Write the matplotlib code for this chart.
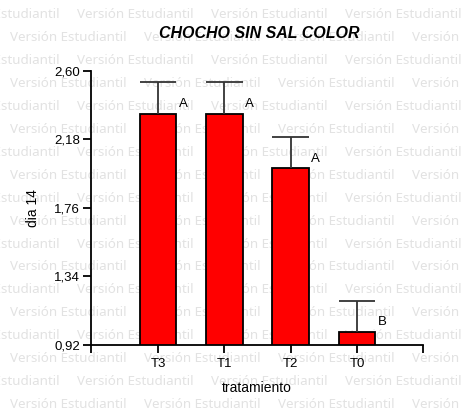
import matplotlib.pyplot as plt
from matplotlib.ticker import FuncFormatter

# data
tratamientos = ["T3", "T1", "T2", "T0"]
medias = [2.334, 2.334, 2.001, 0.998]
error_sup = [0.196, 0.196, 0.190, 0.191]
letras = ["A", "A", "A", "B"]
yticks = [0.92, 1.34, 1.76, 2.18, 2.60]

plt.rcParams['font.family'] = ['Liberation Sans', 'DejaVu Sans']

W, H = 462, 415
fig = plt.figure(figsize=(W / 100, H / 100), dpi=100)

# watermark "Versión Estudiantil" behind everything, sized to ~117 px wide
marca = "Versión Estudiantil"
renderer = fig.canvas.get_renderer()
t = fig.text(0, 0, marca, fontsize=10, family="Noto Sans")
ancho = t.get_window_extent(renderer).width
t.remove()
fs_marca = 10 * 117 / ancho

row_step = 22.9
period = 134
for i in range(18):
    y = 15 + i * row_step
    x = -57 if i % 2 == 0 else 10
    while x < W:
        fig.text(x / W, 1 - y / H, marca, color="#e2e2e2",
                 fontsize=fs_marca, family="Noto Sans", ha="left", va="center",
                 zorder=-5)
        x += period

ax = fig.add_axes([91 / W, 1 - 345 / H, (423 - 91) / W, (345 - 70.6) / H])
ax.patch.set_alpha(0)

pos = list(range(len(tratamientos)))
ancho_barra = 0.55
ax.bar(pos, medias, width=ancho_barra, color="#ff0000", edgecolor="black",
       linewidth=1.3, zorder=2)
tops = [m + e for m, e in zip(medias, error_sup)]
ax.vlines(pos, medias, tops, color="#333333", linewidth=1.3, zorder=3)
ax.hlines(tops, [p - ancho_barra / 2 for p in pos], [p + ancho_barra / 2 for p in pos],
          color="#333333", linewidth=1.3, zorder=3)

for p, m, l in zip(pos, medias, letras):
    ax.text(p + 0.38, m + 0.06, l, fontsize=9.5, ha="center", va="center")

xmin, xmax = -1.01, 3.995
ax.set_xlim(xmin, xmax)
ax.set_ylim(0.92, 2.60)
ax.set_xticks(pos)
ax.set_xticklabels(tratamientos, fontsize=9.5)
ax.set_xticks([xmin, xmax], minor=True)
ax.set_yticks(yticks)
ax.yaxis.set_major_formatter(FuncFormatter(lambda v, _: f"{v:.2f}".replace(".", ",")))
ax.tick_params(axis="both", which="both", direction="out", length=6, width=1.3,
               labelsize=9.5, pad=2)
ax.tick_params(axis="x", pad=3)

for s in ["top", "right"]:
    ax.spines[s].set_visible(False)
for s in ["left", "bottom"]:
    ax.spines[s].set_linewidth(1.3)

ax.set_xlabel("tratamiento", fontsize=10, labelpad=8)
ax.set_ylabel("dia 14", fontsize=10, labelpad=10)
fig.text(259 / W, 1 - 34 / H, "CHOCHO SIN SAL COLOR", fontsize=11.5,
         fontweight="bold", fontstyle="italic", ha="center", va="center")

fig.savefig("out.png", dpi=100)
